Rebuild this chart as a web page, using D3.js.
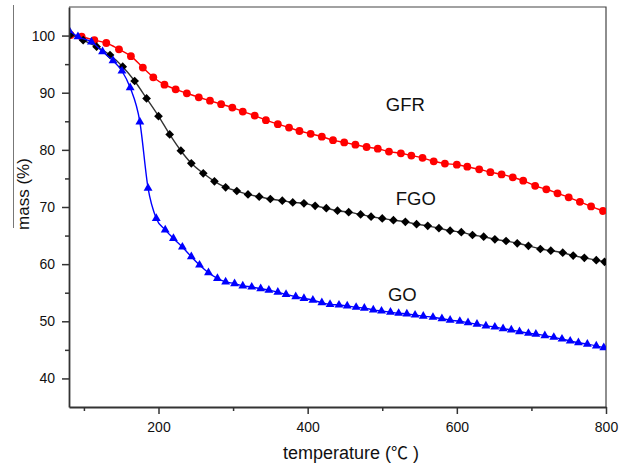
<!DOCTYPE html>
<html>
<head>
<meta charset="utf-8">
<script src="https://cdn.jsdelivr.net/npm/d3@7/dist/d3.min.js"></script>
<style>
  html, body { margin: 0; padding: 0; background: #fff; }
  svg { display: block; }
  text { font-family: Arial, "Liberation Sans", sans-serif; fill: #111; }
</style>
</head>
<body>
<svg id="chart" width="632" height="466"></svg>
<script>
// ---- data (temperature in °C, mass in %) ----
const gfrT = [82, 97, 114, 130, 147, 163, 179, 193, 208, 223, 238, 254, 269, 284, 299, 313, 329, 344, 360, 375, 389, 404, 419, 434, 449, 464, 479, 494, 509, 525, 539, 554, 569, 584, 600, 614, 630, 645, 660, 675, 689, 705, 720, 735, 750, 765, 780, 796];
const gfrM = [100.1, 99.8, 99.2, 98.7, 97.6, 96.4, 94.4, 92.7, 91.4, 90.6, 89.9, 89.2, 88.6, 88.0, 87.4, 86.7, 86.0, 85.2, 84.5, 83.9, 83.3, 82.8, 82.3, 81.7, 81.3, 80.9, 80.5, 80.2, 79.7, 79.4, 79.0, 78.6, 78.0, 77.6, 77.4, 77.05, 76.6, 76.1, 75.7, 75.2, 74.6, 73.7, 73.1, 72.4, 71.7, 70.9, 70.1, 69.3];

const fgoT = [82, 99, 117, 135, 152, 168, 184, 200, 215, 230, 244, 260, 275, 290, 305, 320, 335, 350, 366, 380, 395, 410, 425, 440, 455, 471, 485, 500, 515, 531, 546, 561, 576, 591, 606, 621, 636, 651, 666, 681, 696, 712, 726, 742, 756, 771, 787, 798];
const fgoM = [100.2, 99.2, 98.05, 96.6, 94.55, 92.05, 89.0, 85.9, 82.7, 79.85, 77.65, 75.9, 74.5, 73.45, 72.8, 72.2, 71.8, 71.4, 71.1, 70.8, 70.65, 70.2, 69.8, 69.35, 69.1, 68.7, 68.3, 68.0, 67.7, 67.4, 67.0, 66.7, 66.3, 65.85, 65.6, 65.1, 64.8, 64.35, 64.05, 63.65, 63.2, 62.65, 62.35, 62.0, 61.5, 61.1, 60.7, 60.4];

const goT = [80, 92, 110, 125, 139, 151, 162, 175, 186, 197, 209, 220, 232, 244, 255, 267, 279, 290, 302, 313, 325, 337, 348, 360, 371, 384, 395, 407, 419, 430, 442, 453, 465, 476, 488, 499, 511, 522, 533, 544, 555, 568, 580, 591, 604, 615, 627, 639, 651, 662, 673, 684, 696, 706, 718, 730, 741, 752, 763, 775, 787, 797];
const goM = [100.9, 99.8, 98.9, 97.2, 95.6, 93.8, 90.9, 84.9, 73.3, 68.0, 66.0, 64.5, 63.0, 61.3, 59.85, 58.5, 57.5, 56.9, 56.6, 56.2, 56.0, 55.7, 55.45, 55.1, 54.7, 54.3, 54.0, 53.7, 53.25, 52.95, 52.85, 52.7, 52.45, 52.3, 52.0, 51.8, 51.6, 51.4, 51.3, 51.1, 50.9, 50.7, 50.45, 50.2, 50.0, 49.75, 49.5, 49.2, 49.0, 48.7, 48.5, 48.2, 47.9, 47.75, 47.5, 47.2, 46.9, 46.55, 46.25, 46.0, 45.7, 45.4];

const xMajorTicks = [200, 400, 600, 800];
const xMinorTicks = [100, 300, 500, 700];
const yMajorTicks = [40, 50, 60, 70, 80, 90, 100];
const yMinorTicks = [45, 55, 65, 75, 85, 95];

const seriesNames = ["GFR", "FGO", "GO"];
const labelT = [531, 545, 527];
const labelM = [86.85, 70.35, 53.6];

const xLabelParts = ["temperature (", "\u2103", " )"];
const yLabel = "mass (%)";

// ---- layout ----
const svg = d3.select("#chart");
const L = 69, R = 606, T = 7, B = 407;
const x = d3.scaleLinear().domain([80, 800]).range([L, R]);
const y = d3.scaleLinear().domain([35, 105]).range([B, T]);

svg.append("defs").append("clipPath").attr("id", "plotclip")
  .append("rect").attr("x", L).attr("y", T).attr("width", R - L).attr("height", B - T);

// frame (top & right)
svg.append("path")
  .attr("d", `M${L},${T}H${R}V${B}`)
  .attr("fill", "none").attr("stroke", "#444").attr("stroke-width", 1.2);

const plot = svg.append("g").attr("clip-path", "url(#plotclip)");

const series = [
  { T: gfrT, M: gfrM, color: "#ff0000", lineColor: "#ff0000", sym: "circle" },
  { T: fgoT, M: fgoM, color: "#000000", lineColor: "#333333", sym: "diamond" },
  { T: goT, M: goM, color: "#0000ff", lineColor: "#0000ff", sym: "triangle" }
];

const line = d3.line().x(d => x(d[0])).y(d => y(d[1])).curve(d3.curveMonotoneX);

series.forEach(s => {
  const pts = s.T.map((t, i) => [t, s.M[i]]);
  plot.append("path").datum(pts)
    .attr("d", line)
    .attr("fill", "none")
    .attr("stroke", s.lineColor)
    .attr("stroke-width", 1.4);
  const g = plot.append("g");
  if (s.sym === "circle") {
    g.selectAll("circle").data(pts).join("circle")
      .attr("cx", d => x(d[0])).attr("cy", d => y(d[1]))
      .attr("r", 3.9).attr("fill", s.color);
  } else if (s.sym === "diamond") {
    const p = d3.symbol().type(d3.symbolSquare).size(38)();
    g.selectAll("path").data(pts).join("path")
      .attr("d", p)
      .attr("transform", d => `translate(${x(d[0])},${y(d[1])}) rotate(45)`)
      .attr("fill", s.color);
  } else {
    const p = d3.symbol().type(d3.symbolTriangle).size(34)();
    g.selectAll("path").data(pts).join("path")
      .attr("d", p)
      .attr("transform", d => `translate(${x(d[0])},${y(d[1])})`)
      .attr("fill", s.color);
  }
});

// axes
function styleAxis(g) {
  g.select(".domain").attr("stroke", "#333").attr("stroke-width", 1.8);
  g.selectAll(".tick line").attr("stroke", "#333").attr("stroke-width", 1.5);
  g.selectAll(".tick text").style("font-size", "14px").attr("fill", "#111");
}

const xAxis = svg.append("g").attr("transform", `translate(0,${B})`)
  .call(d3.axisBottom(x).tickValues(xMajorTicks).tickSize(7).tickSizeOuter(0).tickPadding(8).tickFormat(d3.format("d")));
styleAxis(xAxis);
const xMinor = svg.append("g").attr("transform", `translate(0,${B})`)
  .call(d3.axisBottom(x).tickValues(xMinorTicks).tickSize(4).tickSizeOuter(0).tickFormat(""));
xMinor.select(".domain").remove();
xMinor.selectAll(".tick line").attr("stroke", "#333").attr("stroke-width", 1.5);

const yAxis = svg.append("g").attr("transform", `translate(${L},0)`)
  .call(d3.axisLeft(y).tickValues(yMajorTicks).tickSize(7).tickSizeOuter(0).tickPadding(7).tickFormat(d3.format("d")));
styleAxis(yAxis);
const yMinor = svg.append("g").attr("transform", `translate(${L},0)`)
  .call(d3.axisLeft(y).tickValues(yMinorTicks).tickSize(4).tickSizeOuter(0).tickFormat(""));
yMinor.select(".domain").remove();
yMinor.selectAll(".tick line").attr("stroke", "#333").attr("stroke-width", 1.5);

// axis titles
const xt = svg.append("text")
  .attr("x", 351).attr("y", 459)
  .attr("text-anchor", "middle")
  .style("font-size", "18px");
xt.append("tspan").text(xLabelParts[0]);
xt.append("tspan").style("font-family", '"Noto Sans CJK SC", "Noto Sans CJK JP", sans-serif').style("font-size", "17px").text(xLabelParts[1]);
xt.append("tspan").text(xLabelParts[2]);

svg.append("text")
  .attr("transform", "translate(29,194) rotate(-90)")
  .attr("text-anchor", "middle")
  .style("font-size", "17px")
  .text(yLabel);

// thin line left of y title
svg.append("line")
  .attr("x1", 13.5).attr("x2", 13.5).attr("y1", 5).attr("y2", 228)
  .attr("stroke", "#777").attr("stroke-width", 1);

// series labels
seriesNames.forEach((n, i) => {
  svg.append("text")
    .attr("x", x(labelT[i])).attr("y", y(labelM[i]))
    .attr("text-anchor", "middle")
    .style("font-size", "18.5px")
    .text(n);
});
</script>
</body>
</html>
